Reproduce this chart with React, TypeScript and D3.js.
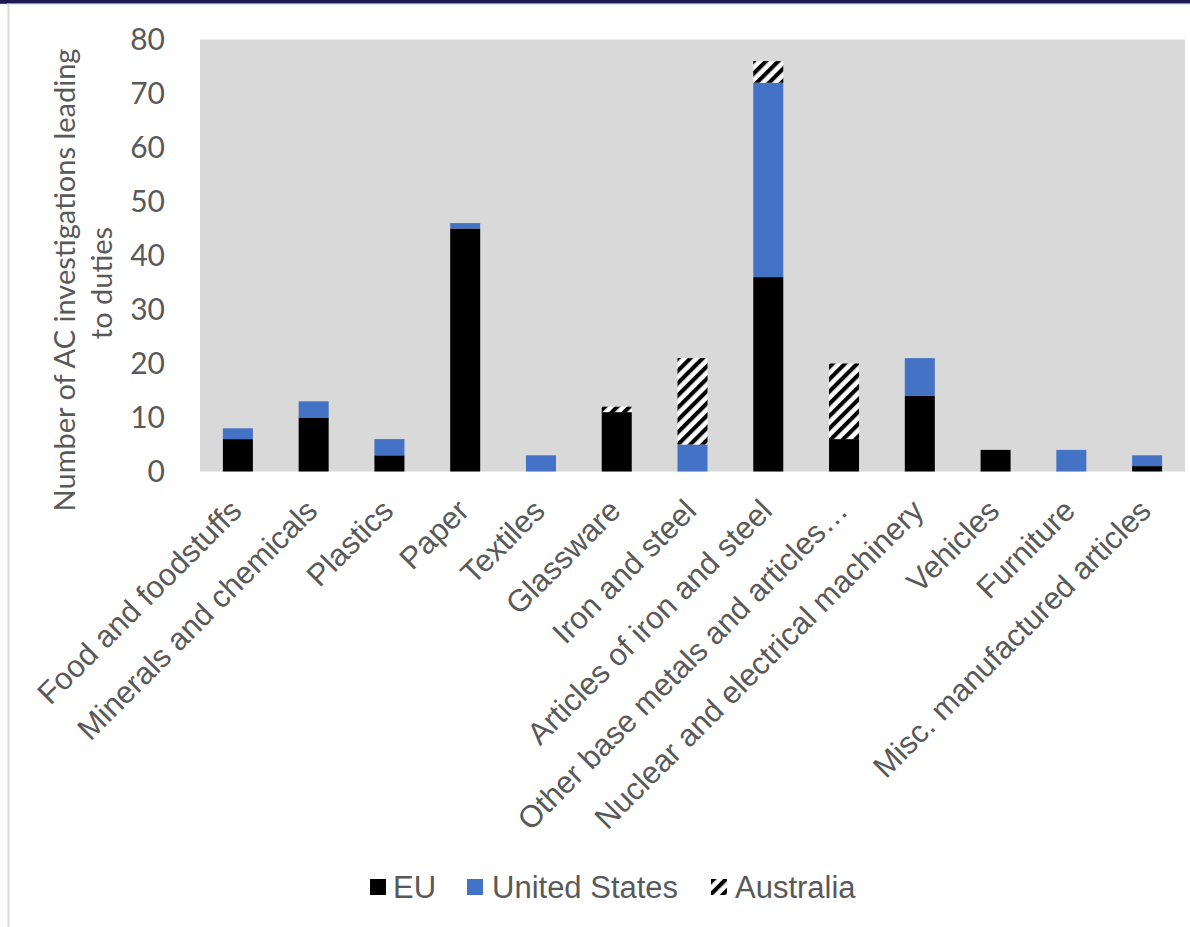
import React from "react";
import * as d3 from "d3";

const categories = [
  "Food and foodstuffs",
  "Minerals and chemicals",
  "Plastics",
  "Paper",
  "Textiles",
  "Glassware",
  "Iron and steel",
  "Articles of iron and steel",
  "Other base metals and articles…",
  "Nuclear and electrical machinery",
  "Vehicles",
  "Furniture",
  "Misc. manufactured articles",
];
const euValues = [6, 10, 3, 45, 0, 11, 0, 36, 6, 14, 4, 0, 1];
const usValues = [2, 3, 3, 1, 3, 0, 5, 36, 0, 7, 0, 4, 2];
const auValues = [0, 0, 0, 0, 0, 1, 16, 4, 14, 0, 0, 0, 0];
const seriesKeys = ["EU", "United States", "Australia"];
const yTicks = [0, 10, 20, 30, 40, 50, 60, 70, 80];

const W = 1190;
const H = 927;
const PL = 200, PR = 1185, PT = 39.5, PB = 471.5;

const fills: Record<string, string> = {
  EU: "#000000",
  "United States": "#4472C4",
  Australia: "url(#hatch)",
};

export default function App() {
  const rows = categories.map((c, i) => ({
    cat: c,
    EU: euValues[i],
    "United States": usValues[i],
    Australia: auValues[i],
  }));
  const x = d3.scaleBand<string>().domain(categories).range([PL, PR]).paddingInner(0.604).paddingOuter(0.302);
  const y = d3.scaleLinear().domain([0, 80]).range([PB, PT]);
  const stacked = d3.stack<any>().keys(seriesKeys)(rows);
  const tickFont = "Lato, 'Open Sans', sans-serif";
  const armFont = "'Liberation Sans', Arial, sans-serif";
  const legendItems = [
    { key: "EU", sx: 370, tx: 393 },
    { key: "United States", sx: 467, tx: 492 },
    { key: "Australia", sx: 711, tx: 735 },
  ];
  return (
    <svg width={W} height={H} style={{ position: "absolute", left: 0, top: 0, background: "#fff" }}>
      <defs>
        <pattern id="hatch" patternUnits="userSpaceOnUse" width={8.7} height={8.7} patternTransform="rotate(45)">
          <rect x={0} y={0} width={8.7} height={8.7} fill="#fff" />
          <rect x={0} y={0} width={4.1} height={8.7} fill="#000" />
        </pattern>
        <pattern id="hatchLegend" patternUnits="userSpaceOnUse" width={8.7} height={8.7} patternTransform="translate(711,879) rotate(45)">
          <rect x={0} y={0} width={8.7} height={8.7} fill="#fff" />
          <rect x={0} y={0} width={4.1} height={8.7} fill="#000" />
        </pattern>
      </defs>
      <rect x={0} y={0} width={W} height={H} fill="#fff" />
      <rect x={0} y={0} width={W} height={3.5} fill="#1f1b50" />
      <rect x={0} y={3.5} width={7} height={1.5} fill="#000" />
      <line x1={0} x2={W} y1={4.5} y2={4.5} stroke="#ececec" strokeWidth={1} />
      <line x1={8.5} x2={8.5} y1={4} y2={H} stroke="#d9d9d9" strokeWidth={2} />

      <rect x={PL} y={PT} width={PR - PL} height={PB - PT} fill="#d9d9d9" />

      {stacked.map((s) => (
        <g key={s.key}>
          {s.map((d, i) =>
            d[1] - d[0] > 0 ? (
              <rect
                key={i}
                x={x(categories[i])!}
                width={x.bandwidth()}
                y={y(d[1])}
                height={y(d[0]) - y(d[1])}
                fill={fills[s.key]}
              />
            ) : null
          )}
        </g>
      ))}

      {yTicks.map((t) => (
        <text
          key={t}
          x={165}
          y={y(t)}
          dy="0.36em"
          textAnchor="end"
          fontFamily={tickFont}
          fontSize={30}
          fill="#595959"
        >
          {t}
        </text>
      ))}

      <g transform="translate(65,280) rotate(-90)">
        <text textAnchor="middle" dy="0.36em" fontFamily={tickFont} fontSize={29} fill="#595959">
          Number of AC investigations leading
        </text>
      </g>
      <g transform="translate(102,283) rotate(-90)">
        <text textAnchor="middle" dy="0.36em" fontFamily={tickFont} fontSize={29} fill="#595959">
          to duties
        </text>
      </g>

      {categories.map((c) => (
        <g key={c} transform={`translate(${x(c)! + x.bandwidth() / 2 - 2},505) rotate(-45)`}>
          <text textAnchor="end" dy="0.35em" fontFamily={armFont} fontSize={31} fill="#595959">
            {c}
          </text>
        </g>
      ))}

      {legendItems.map((l) => (
        <g key={l.key}>
          <rect
            x={l.sx}
            y={879}
            width={16}
            height={16}
            fill={l.key === "Australia" ? "url(#hatchLegend)" : fills[l.key]}
          />
          <text x={l.tx} y={887} dy="0.36em" fontFamily={armFont} fontSize={31} fill="#595959">
            {l.key}
          </text>
        </g>
      ))}
    </svg>
  );
}
